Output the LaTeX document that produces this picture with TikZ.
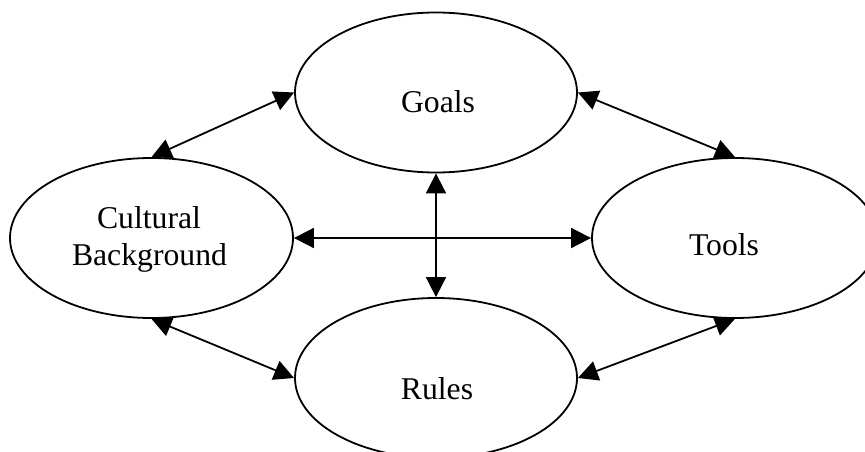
\documentclass[tikz,border=0pt]{standalone}
\usepackage{fontspec}
\setmainfont{Liberation Serif}
\usetikzlibrary{shapes.geometric,arrows.meta}
\begin{document}
\begin{tikzpicture}[x=1pt,y=-1pt,
  oval/.style={draw, ellipse, line width=1.8pt, inner sep=0pt, minimum width=282pt, minimum height=160pt},
  lbl/.style={font=\fontsize{31.7}{37}\selectfont, inner sep=0pt, anchor=base},
  conn/.style={line width=1.8pt, {Triangle[length=20pt,width=20pt]}-{Triangle[length=20pt,width=20pt]}}]
\clip (0,0) rectangle (865,452);
\node[oval] (goals) at (436,92.5) {};
\node[oval] (rules) at (436,378) {};
\node[oval, minimum width=283pt] (cult) at (151.5,238) {};
\node[oval, minimum width=286pt] (tools) at (735,238) {};
\node[lbl] (goalsT) at (438,113) {Goals};
\node[lbl] (rulesT) at (437,399) {Rules};
\node[lbl] (toolsT) at (724,255) {Tools};
\node[lbl] (cultA) at (149,228) {Cultural};
\node[lbl] (cultB) at (149.5,265) {Background};
\draw[conn] (cult.north) -- (goals.west);
\draw[conn] (goals.east) -- (tools.north);
\draw[conn] (cult.south) -- (rules.west);
\draw[conn] (tools.south) -- (rules.east);
\draw[conn] (cult.east) -- (tools.west);
\draw[conn] (goals.south) -- (rules.north);
\end{tikzpicture}
\end{document}
